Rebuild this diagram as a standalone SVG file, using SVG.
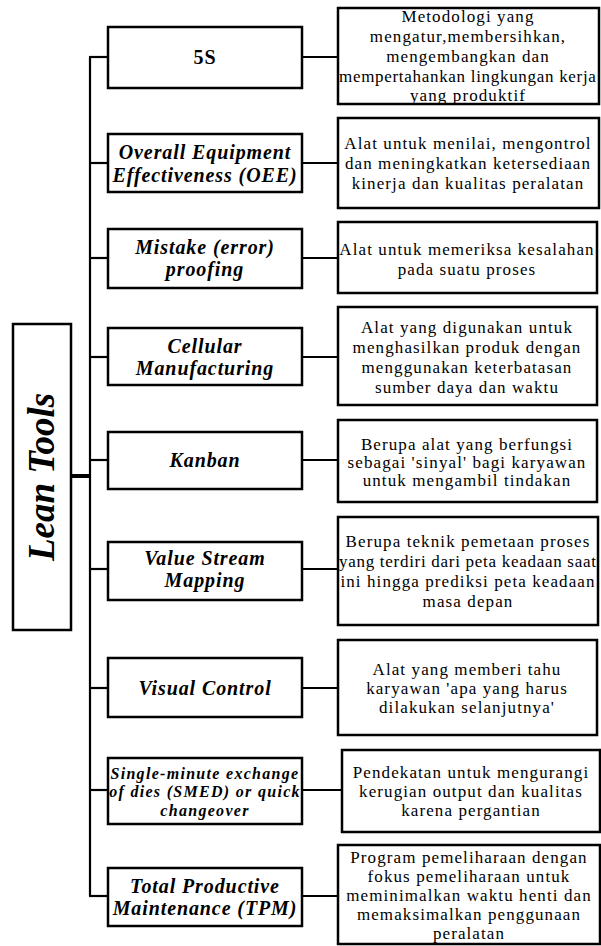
<svg xmlns="http://www.w3.org/2000/svg" width="601" height="946" viewBox="0 0 601 946">
  <style>
    .box { fill: #ffffff; stroke: #000000; stroke-width: 2.5; }
    .wire { fill: none; stroke: #000000; stroke-width: 2.2; }
    .root { fill: none; stroke: #000000; stroke-width: 4; }
    .tool { font-family: "Liberation Serif", "Times New Roman", serif; font-size: 20px; font-weight: bold; font-style: italic; letter-spacing: 0.9px; text-anchor: middle; fill: #000000; }
    .tool-sm { font-size: 16px; letter-spacing: 1.3px; }
    .desc { font-family: "Liberation Serif", "Times New Roman", serif; font-size: 17px; letter-spacing: 1.1px; text-anchor: middle; fill: #000000; }
    .title { font-family: "Liberation Serif", "Times New Roman", serif; font-size: 37px; font-weight: bold; font-style: italic; text-anchor: middle; fill: #000000; }
  </style>
  <rect x="0" y="0" width="601" height="946" fill="#ffffff"/>

  <!-- connectors: root to trunk, trunk to tools, tools to descriptions -->
  <g id="connectors">
    <line class="root" x1="71" y1="476" x2="90" y2="476"/>
    <line class="wire" x1="90" y1="57" x2="90" y2="896"/>
    <line class="wire" x1="89" y1="57" x2="108" y2="57"/>
    <line class="wire" x1="89" y1="163" x2="108" y2="163"/>
    <line class="wire" x1="89" y1="258" x2="108" y2="258"/>
    <line class="wire" x1="89" y1="357" x2="108" y2="357"/>
    <line class="wire" x1="89" y1="460" x2="108" y2="460"/>
    <line class="wire" x1="89" y1="569" x2="108" y2="569"/>
    <line class="wire" x1="89" y1="688" x2="108" y2="688"/>
    <line class="wire" x1="89" y1="790" x2="108" y2="790"/>
    <line class="wire" x1="89" y1="896" x2="108" y2="896"/>
    <line class="wire" x1="302" y1="57" x2="338" y2="57"/>
    <line class="wire" x1="302" y1="163" x2="338" y2="163"/>
    <line class="wire" x1="302" y1="258" x2="338" y2="258"/>
    <line class="wire" x1="302" y1="357" x2="338" y2="357"/>
    <line class="wire" x1="302" y1="460" x2="338" y2="460"/>
    <line class="wire" x1="302" y1="569" x2="338" y2="569"/>
    <line class="wire" x1="302" y1="688" x2="338" y2="688"/>
    <line class="wire" x1="302" y1="790" x2="342" y2="790"/>
    <line class="wire" x1="302" y1="896" x2="338" y2="896"/>
  </g>

  <!-- root -->
  <g id="lean-tools">
    <rect class="box" x="13" y="324" width="58" height="306"/>
    <text class="title" transform="translate(54,477) rotate(-90)">Lean Tools</text>
  </g>

  <!-- tools -->
  <g id="tool-5s">
    <rect class="box" x="108" y="27" width="194" height="61"/>
    <text class="tool" x="205" y="64" style="font-style:normal">5S</text>
  </g>
  <g id="tool-oee">
    <rect class="box" x="108" y="134" width="194" height="58"/>
    <text class="tool" x="205" y="159">Overall Equipment</text>
    <text class="tool" x="205" y="182">Effectiveness (OEE)</text>
  </g>
  <g id="tool-mistake">
    <rect class="box" x="108" y="229" width="194" height="59"/>
    <text class="tool" x="205" y="254">Mistake (error)</text>
    <text class="tool" x="205" y="276">proofing</text>
  </g>
  <g id="tool-cellular">
    <rect class="box" x="108" y="328" width="194" height="57"/>
    <text class="tool" x="205" y="353">Cellular</text>
    <text class="tool" x="205" y="375">Manufacturing</text>
  </g>
  <g id="tool-kanban">
    <rect class="box" x="108" y="432" width="194" height="57"/>
    <text class="tool" x="205" y="467">Kanban</text>
  </g>
  <g id="tool-vsm">
    <rect class="box" x="108" y="542" width="194" height="58"/>
    <text class="tool" x="205" y="565">Value Stream</text>
    <text class="tool" x="205" y="587">Mapping</text>
  </g>
  <g id="tool-visual">
    <rect class="box" x="108" y="658" width="194" height="59"/>
    <text class="tool" x="205" y="695">Visual Control</text>
  </g>
  <g id="tool-smed">
    <rect class="box" x="108" y="758" width="194" height="66"/>
    <text class="tool tool-sm" x="205" y="779">Single-minute exchange</text>
    <text class="tool tool-sm" x="205" y="797">of dies (SMED) or quick</text>
    <text class="tool tool-sm" x="205" y="816">changeover</text>
  </g>
  <g id="tool-tpm">
    <rect class="box" x="108" y="868" width="194" height="58"/>
    <text class="tool" x="205" y="893">Total Productive</text>
    <text class="tool" x="205" y="915">Maintenance (TPM)</text>
  </g>

  <!-- descriptions -->
  <g id="desc-5s">
    <rect class="box" x="338" y="8" width="261" height="96"/>
    <text class="desc" x="468" y="22">Metodologi yang</text>
    <text class="desc" x="468" y="42">mengatur,membersihkan,</text>
    <text class="desc" x="468" y="62">mengembangkan dan</text>
    <text class="desc" x="468" y="82" textLength="258" lengthAdjust="spacing">mempertahankan  lingkungan kerja</text>
    <text class="desc" x="468" y="101">yang produktif</text>
  </g>
  <g id="desc-oee">
    <rect class="box" x="338" y="118" width="261" height="90"/>
    <text class="desc" x="468" y="149">Alat untuk menilai, mengontrol</text>
    <text class="desc" x="468" y="169">dan meningkatkan ketersediaan</text>
    <text class="desc" x="468" y="189">kinerja dan kualitas peralatan</text>
  </g>
  <g id="desc-mistake">
    <rect class="box" x="338" y="222" width="259" height="71"/>
    <text class="desc" x="467" y="255">Alat untuk memeriksa kesalahan</text>
    <text class="desc" x="467" y="275">pada suatu proses</text>
  </g>
  <g id="desc-cellular">
    <rect class="box" x="338" y="307" width="259" height="98"/>
    <text class="desc" x="467" y="333">Alat yang digunakan untuk</text>
    <text class="desc" x="467" y="353">menghasilkan produk dengan</text>
    <text class="desc" x="467" y="373">menggunakan keterbatasan</text>
    <text class="desc" x="467" y="393">sumber daya dan waktu</text>
  </g>
  <g id="desc-kanban">
    <rect class="box" x="338" y="420" width="259" height="82"/>
    <text class="desc" x="467" y="450">Berupa alat yang berfungsi</text>
    <text class="desc" x="467" y="468">sebagai 'sinyal' bagi karyawan</text>
    <text class="desc" x="467" y="486">untuk mengambil tindakan</text>
  </g>
  <g id="desc-vsm">
    <rect class="box" x="338" y="517" width="260" height="108"/>
    <text class="desc" x="468" y="547">Berupa teknik pemetaan proses</text>
    <text class="desc" x="468" y="567" textLength="258" lengthAdjust="spacing">yang terdiri dari peta keadaan saat</text>
    <text class="desc" x="468" y="587">ini hingga prediksi peta keadaan</text>
    <text class="desc" x="468" y="607">masa  depan</text>
  </g>
  <g id="desc-visual">
    <rect class="box" x="338" y="640" width="259" height="95"/>
    <text class="desc" x="467" y="675">Alat yang memberi tahu</text>
    <text class="desc" x="467" y="694">karyawan 'apa yang harus</text>
    <text class="desc" x="467" y="713">dilakukan selanjutnya'</text>
  </g>
  <g id="desc-smed">
    <rect class="box" x="342" y="750" width="258" height="82"/>
    <text class="desc" x="471" y="778">Pendekatan untuk mengurangi</text>
    <text class="desc" x="471" y="797">kerugian output dan kualitas</text>
    <text class="desc" x="471" y="816">karena pergantian</text>
  </g>
  <g id="desc-tpm">
    <rect class="box" x="338" y="845" width="262" height="99"/>
    <text class="desc" x="469" y="863">Program pemeliharaan dengan</text>
    <text class="desc" x="469" y="882">fokus pemeliharaan untuk</text>
    <text class="desc" x="469" y="901">meminimalkan  waktu henti dan</text>
    <text class="desc" x="469" y="920">memaksimalkan  penggunaan</text>
    <text class="desc" x="469" y="939">peralatan</text>
  </g>
</svg>
